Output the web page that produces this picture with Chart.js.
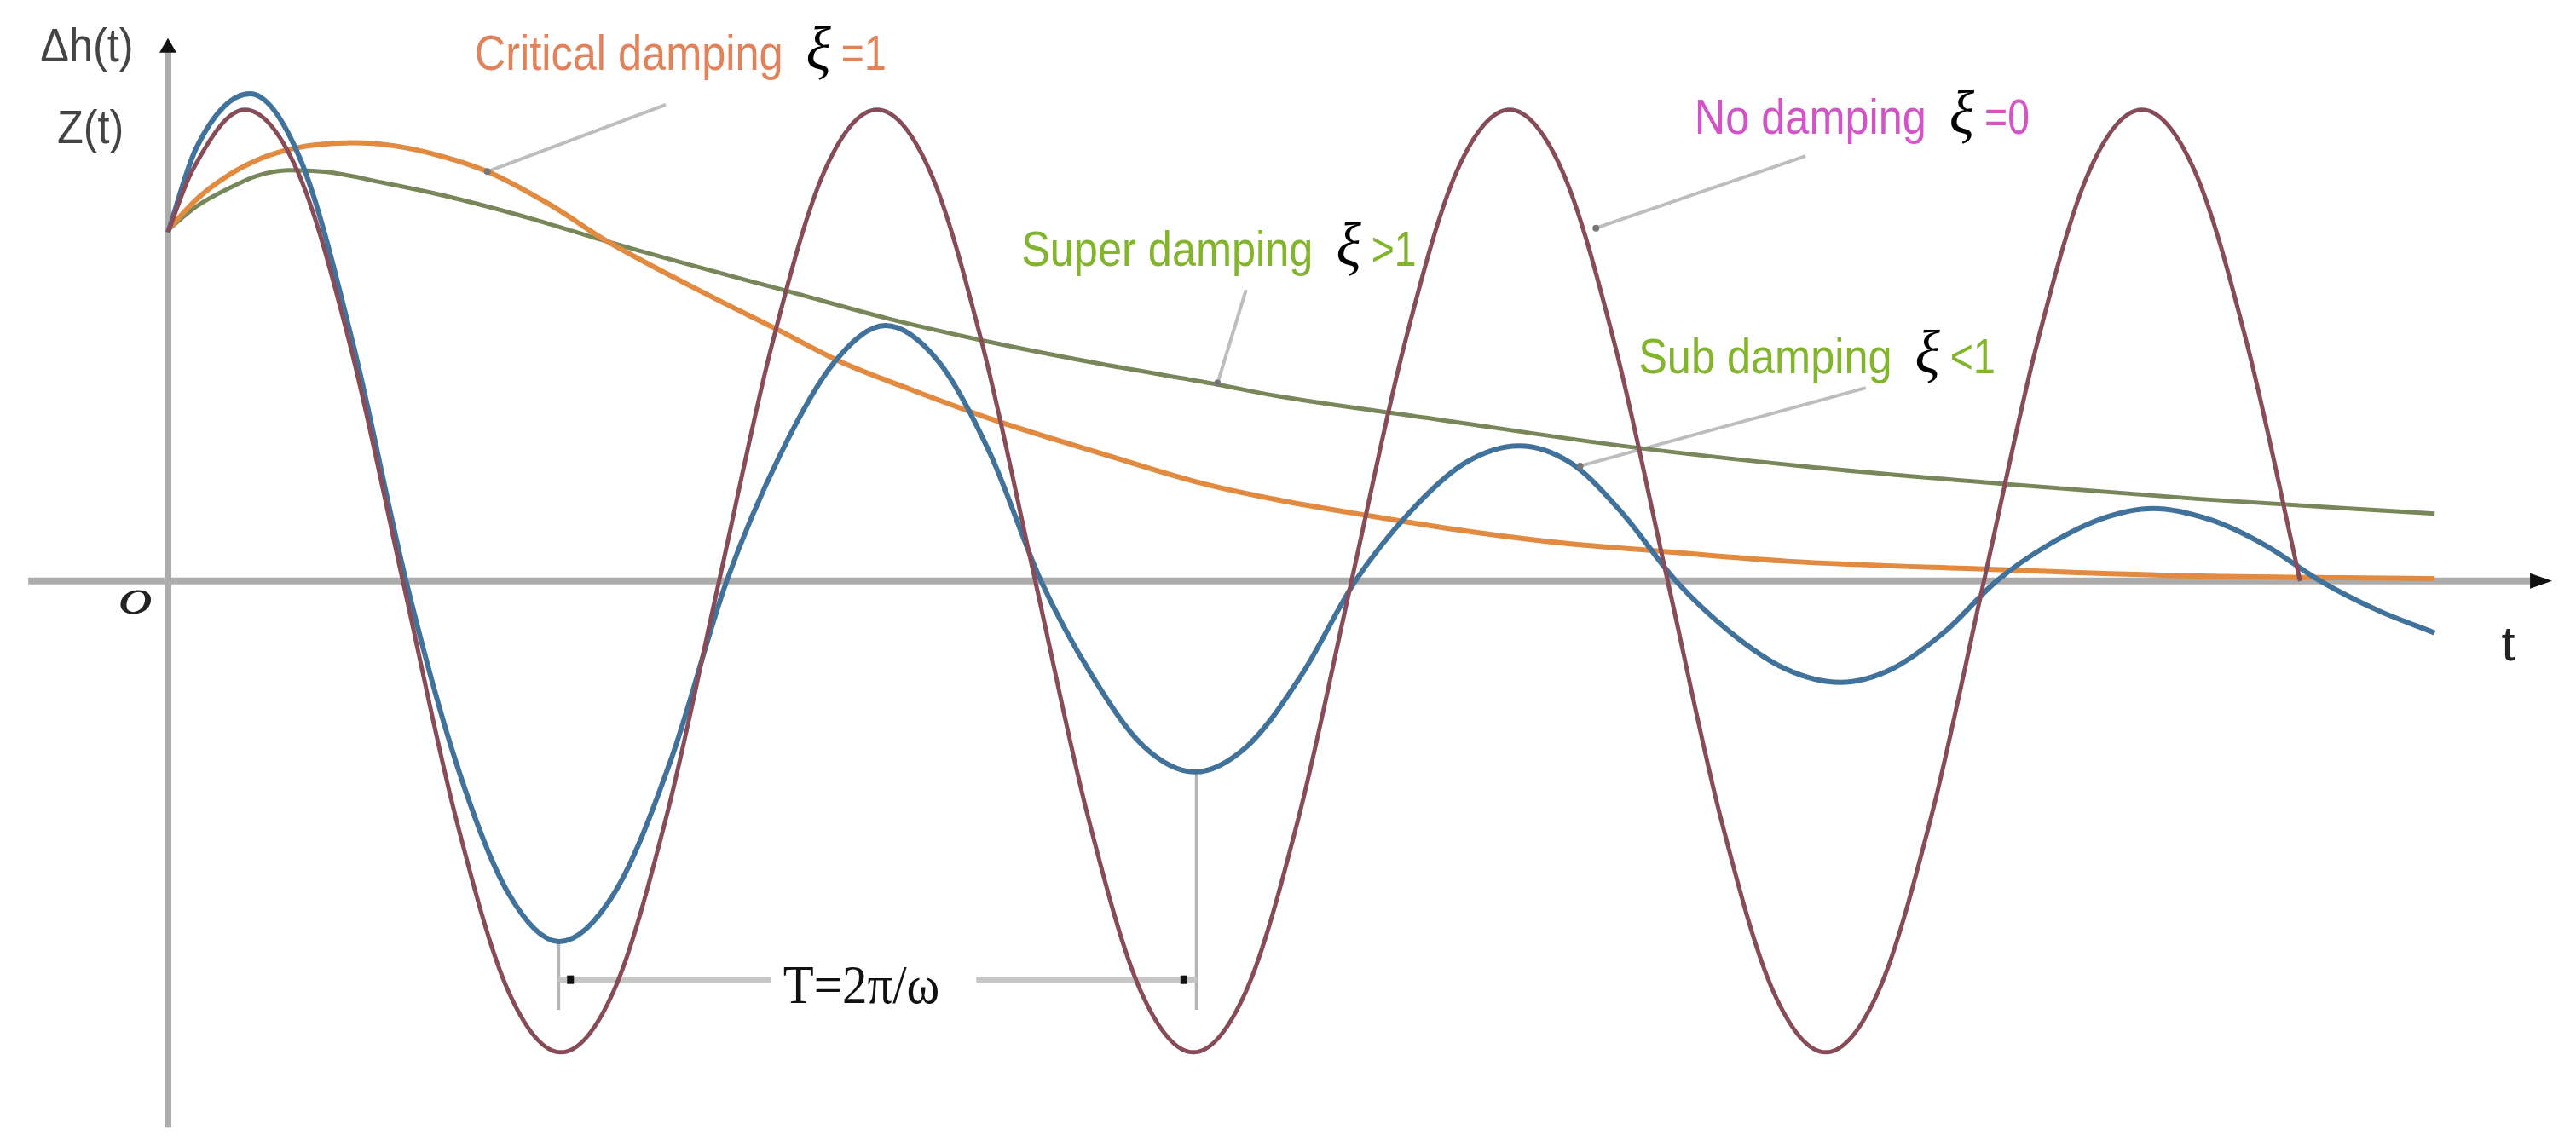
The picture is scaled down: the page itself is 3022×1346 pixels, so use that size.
<!DOCTYPE html>
<html>
<head>
<meta charset="utf-8">
<script src="https://cdn.jsdelivr.net/npm/chart.js@4.4.1/dist/chart.umd.min.js"></script>
<style>
  html, body { margin: 0; padding: 0; background: #fff; }
  #wrap { width: 3022px; height: 1346px; }
</style>
</head>
<body>
<div id="wrap"><canvas id="chart" width="3022" height="1346"></canvas></div>
<script>
// values: t along the time axis, z = response (amplitude of undamped = 10)
const tNoDamp = [0, 0.38, 1.21, 2.04, 2.87, 3.7, 4.53, 5.36, 6.19, 7.02, 7.85, 8.68, 9.51, 10.34, 11.17, 12.0, 12.83, 13.66,
                 14.49, 15.32, 16.15, 16.98, 17.81, 18.64, 19.47, 20.3, 21.13, 21.96, 22.79, 23.62, 24.45, 25.28, 26.11,
                 26.94, 27.77, 28.6, 29.43, 30.26, 31.09, 31.92, 32.75, 33.58];
const zNoDamp = [7.4, 8.7, 10, 8.7, 5.0, 0, -5.0, -8.7, -10, -8.7, -5.0, 0, 5.0, 8.7, 10, 8.7, 5.0, 0,
                 -5.0, -8.7, -10, -8.7, -5.0, 0, 5.0, 8.7, 10, 8.7, 5.0, 0, -5.0, -8.7, -10,
                 -8.7, -5.0, 0, 5.0, 8.7, 10, 8.7, 5.0, 0];

const tSub = [0, 0.45, 1.29, 2.1, 2.92, 3.75, 4.55, 5.35, 6.16, 7.04, 7.92, 8.8, 9.65, 10.5, 11.3, 12.14, 12.95, 13.75,
              14.55, 15.36, 16.17, 17.0, 17.85, 18.7, 19.55, 20.42, 21.28, 22.1, 22.9, 23.75, 24.6, 25.47, 26.34,
              27.16, 27.98, 28.8, 29.63, 30.47, 31.26, 32.17, 33.03, 33.9, 34.8, 35.7];
const zSub = [7.4, 9.2, 10.34, 8.9, 5.0, 0, -3.9, -6.6, -7.65, -6.6, -3.8, 0, 2.7, 4.65, 5.42, 4.65, 2.7, 0,
              -2.0, -3.5, -4.05, -3.5, -2.0, 0, 1.45, 2.5, 2.87, 2.5, 1.45, 0, -1.08, -1.86, -2.15,
              -1.86, -1.08, 0, 0.78, 1.33, 1.54, 1.3, 0.76, 0, -0.62, -1.1];

const tCritical = [0, 0.45, 0.94, 1.4, 1.83, 2.3, 2.9, 3.54, 4.3, 5.03, 6.0, 6.93, 8.58, 9.55, 10.63, 11.65, 13.09,
                   14.74, 16.27, 17.49, 18.9, 20.5, 22.0, 23.53, 25.5, 28.68, 31.5, 35.7];
const zCritical = [7.45, 8.1, 8.6, 8.93, 9.13, 9.25, 9.3, 9.24, 9.02, 8.69, 8.0, 7.2, 6.02, 5.37, 4.63, 4.09, 3.38,
                   2.69, 2.08, 1.72, 1.39, 1.05, 0.8, 0.63, 0.42, 0.25, 0.12, 0.05];

const tSuper = [0, 0.45, 0.94, 1.4, 1.9, 2.5, 3.4, 4.47, 5.7, 6.93, 8.3, 9.71, 11.34, 12.78, 14.6, 16.53, 17.49, 20.0,
                22.89, 25.8, 28.93, 32.0, 35.7];
const zSuper = [7.45, 7.95, 8.32, 8.6, 8.72, 8.68, 8.45, 8.14, 7.7, 7.2, 6.68, 6.17, 5.57, 5.12, 4.63, 4.17, 3.92, 3.43,
                2.87, 2.43, 2.06, 1.74, 1.43];

const toPoints = (ts, zs) => ts.map((t, i) => ({ x: t, y: zs[i] }));

// annotation anchors in data units (t, z)
const labels = [
    { text: "Critical damping", suffix: "=1", color: "#e2825a", at: [4.83, 10.85], line: [[7.84, 10.11], [5.03, 8.69]] },
    { text: "No damping", suffix: "=0", color: "#d254c6", at: [24.04, 9.49], line: [[25.79, 9.02], [22.49, 7.49]] },
    { text: "Super damping", suffix: ">1", color: "#82b52b", at: [13.44, 6.69], line: [[16.98, 6.18], [16.53, 4.2]] },
    { text: "Sub damping", suffix: "<1", color: "#82b52b", at: [23.16, 4.41], line: [[26.74, 4.1], [22.24, 2.44]] }
];

function drawText(ctx, str, x, y, font, color, sx) {
    ctx.save();
    ctx.font = font;
    ctx.fillStyle = color;
    ctx.textBaseline = "alphabetic";
    ctx.translate(x, y);
    ctx.scale(sx, 1);
    ctx.fillText(str, 0, 0);
    const w = ctx.measureText(str).width * sx;
    ctx.restore();
    return w;
}

const axesPlugin = {
    id: "axes",
    beforeDatasetsDraw(chart) {
        const ctx = chart.ctx;
        const xs = chart.scales.x, ys = chart.scales.y;
        const x0 = xs.getPixelForValue(0), y0 = ys.getPixelForValue(0);
        ctx.save();
        ctx.strokeStyle = "#acacac";
        ctx.lineWidth = 8;
        ctx.beginPath();
        ctx.moveTo(xs.getPixelForValue(-2.2), y0);
        ctx.lineTo(xs.getPixelForValue(37.3), y0);
        ctx.moveTo(x0, ys.getPixelForValue(11.3));
        ctx.lineTo(x0, ys.getPixelForValue(-11.6));
        ctx.stroke();
        // arrow heads
        ctx.fillStyle = "#111";
        const xe = xs.getPixelForValue(37.55);
        ctx.beginPath();
        ctx.moveTo(xe, y0);
        ctx.lineTo(xe - 26, y0 - 9);
        ctx.lineTo(xe - 26, y0 + 9);
        ctx.closePath();
        ctx.fill();
        const yt = ys.getPixelForValue(11.52);
        ctx.beginPath();
        ctx.moveTo(x0, yt);
        ctx.lineTo(x0 - 10, yt + 17);
        ctx.lineTo(x0 + 10, yt + 17);
        ctx.closePath();
        ctx.fill();

        // period marker
        const xa = xs.getPixelForValue(6.15), xb = xs.getPixelForValue(16.2);
        ctx.strokeStyle = "#b4b4b4";
        ctx.lineWidth = 4;
        ctx.beginPath();
        ctx.moveTo(xa, ys.getPixelForValue(-7.65));
        ctx.lineTo(xa, ys.getPixelForValue(-9.1));
        ctx.moveTo(xb, ys.getPixelForValue(-4.05));
        ctx.lineTo(xb, ys.getPixelForValue(-9.1));
        ctx.stroke();
        const yd = ys.getPixelForValue(-8.46);
        ctx.strokeStyle = "#c6c6c6";
        ctx.lineWidth = 7;
        ctx.beginPath();
        ctx.moveTo(xa, yd);
        ctx.lineTo(xs.getPixelForValue(9.49), yd);
        ctx.moveTo(xs.getPixelForValue(12.73), yd);
        ctx.lineTo(xb, yd);
        ctx.stroke();
        ctx.fillStyle = "#111";
        ctx.fillRect(xs.getPixelForValue(6.34) - 4, yd - 5, 8, 10);
        ctx.fillRect(xs.getPixelForValue(16.0) - 4, yd - 5, 8, 10);

        // pointer lines
        ctx.strokeStyle = "#bdbdbd";
        ctx.lineWidth = 4;
        labels.forEach(l => {
            ctx.beginPath();
            ctx.moveTo(xs.getPixelForValue(l.line[0][0]), ys.getPixelForValue(l.line[0][1]));
            ctx.lineTo(xs.getPixelForValue(l.line[1][0]), ys.getPixelForValue(l.line[1][1]));
            ctx.stroke();
        });
        ctx.restore();
    },
    afterDatasetsDraw(chart) {
        const ctx = chart.ctx;
        const xs = chart.scales.x, ys = chart.scales.y;
        const sans = "58px 'Liberation Sans', Arial, sans-serif";
        const xi = "italic 72px 'Liberation Serif', 'DejaVu Serif', serif";

        labels.forEach(l => {
            let x = xs.getPixelForValue(l.at[0]);
            const y = ys.getPixelForValue(l.at[1]);
            x += drawText(ctx, l.text, x, y, sans, l.color, 0.87) + 27;
            x += drawText(ctx, "ξ", x, y, xi, "#000", 0.95) + 12;
            drawText(ctx, l.suffix, x, y, sans, l.color, 0.8);
        });

        // pointer tips
        ctx.save();
        ctx.fillStyle = "#777";
        labels.forEach(l => {
            ctx.beginPath();
            ctx.arc(xs.getPixelForValue(l.line[1][0]), ys.getPixelForValue(l.line[1][1]), 4, 0, Math.PI * 2);
            ctx.fill();
        });
        ctx.restore();

        // axis labels
        const axisFont = "56px 'Liberation Sans', Arial, sans-serif";
        drawText(ctx, "Δh(t)", xs.getPixelForValue(-2.01), ys.getPixelForValue(11.03), axisFont, "#444", 0.9);
        drawText(ctx, "Z(t)", xs.getPixelForValue(-1.745), ys.getPixelForValue(9.29), axisFont, "#444", 0.9);
        drawText(ctx, "o", xs.getPixelForValue(-0.78), ys.getPixelForValue(-0.69), "italic 60px 'Liberation Serif', serif", "#222", 1.35);
        drawText(ctx, "t", xs.getPixelForValue(36.75), ys.getPixelForValue(-1.68), "58px 'Liberation Sans', Arial, sans-serif", "#222", 1);
        drawText(ctx, "T=2π/ω", xs.getPixelForValue(9.69), ys.getPixelForValue(-8.95), "64px 'Liberation Serif', 'Times New Roman', serif", "#111", 0.92);
    }
};

new Chart(document.getElementById("chart"), {
    type: "line",
    data: {
        datasets: [
            { label: "No damping", data: toPoints(tNoDamp, zNoDamp), borderColor: "#874c57", borderWidth: 5 },
            { label: "Sub damping", data: toPoints(tSub, zSub), borderColor: "#41729c", borderWidth: 6 },
            { label: "Critical damping", data: toPoints(tCritical, zCritical), borderColor: "#e28a3f", borderWidth: 6 },
            { label: "Super damping", data: toPoints(tSuper, zSuper), borderColor: "#77875a", borderWidth: 5 }
        ]
    },
    options: {
        responsive: false,
        animation: false,
        devicePixelRatio: 1,
        layout: { padding: 0 },
        elements: {
            point: { radius: 0 },
            line: { cubicInterpolationMode: "monotone", fill: false }
        },
        scales: {
            x: { type: "linear", min: -2.645, max: 37.925, display: false },
            y: { type: "linear", min: -12.01, max: 12.33, display: false }
        },
        plugins: {
            legend: { display: false },
            tooltip: { enabled: false }
        }
    },
    plugins: [axesPlugin]
});
</script>
</body>
</html>
